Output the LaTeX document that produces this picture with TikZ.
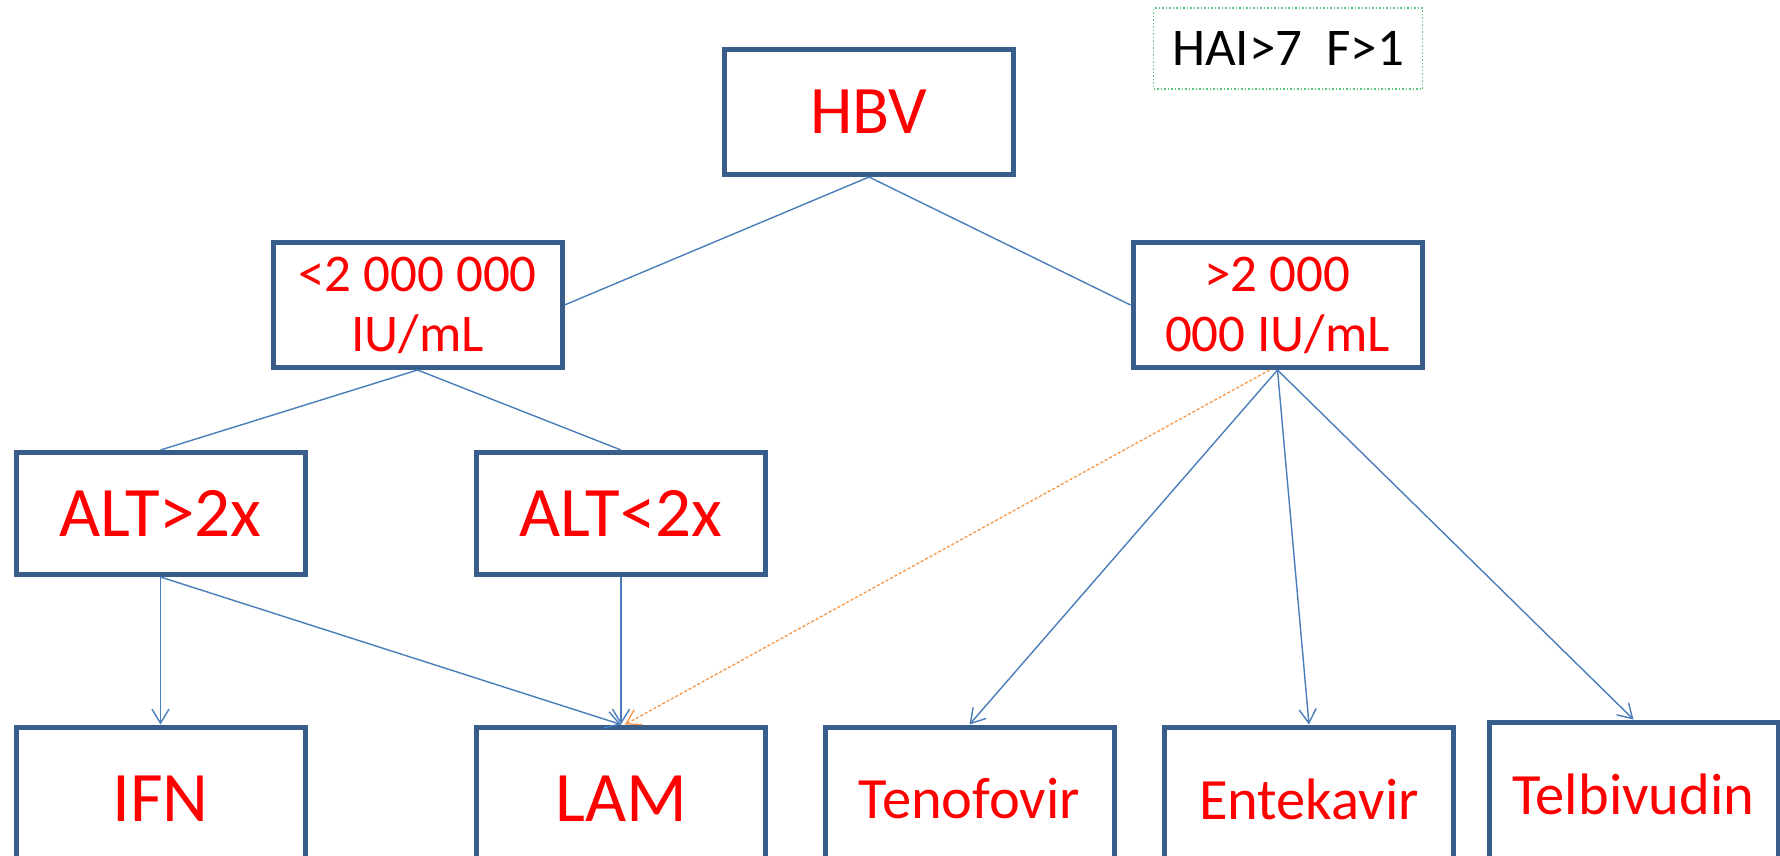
\documentclass[tikz,border=0pt]{standalone}
\usepackage{fontspec}
\setmainfont{Carlito}
\usepackage{tikz}
\usetikzlibrary{arrows.meta}
\definecolor{boxblue}{RGB}{56,93,138}
\definecolor{linkblue}{RGB}{74,126,187}
\definecolor{linkorange}{RGB}{247,150,70}
\definecolor{notegreen}{RGB}{90,200,130}
\newlength{\boxw}
\setlength{\boxw}{289pt}
\newlength{\boxh}
\setlength{\boxh}{125pt}

\begin{document}
\begin{tikzpicture}[x=1pt,y=-1pt,
	box/.style={draw=boxblue,line width=5pt,minimum width=\boxw,minimum height=\boxh,inner sep=0pt,text=red,align=center},
	link/.style={draw=linkblue,line width=1.4pt},
	arr/.style={link,-{Straight Barb[length=14pt,width=17pt]}}]
	\useasboundingbox (0,0) rectangle (1780,855);
	\clip (0,0) rectangle (1780,855);
	\fill[white] (0,0) rectangle (1780,855);

	\node[box,font=\fontsize{68}{72}\selectfont] (hbv) at (869,112) {HBV};
	\node[draw=notegreen,line width=1.5pt,dotted,minimum width=269pt,minimum height=81pt,inner sep=0pt,font=\fontsize{53}{60}\selectfont] (hai) at (1288,48.5) {HAI>7\ \ F>1};

	\node[box,font=\fontsize{53}{60}\selectfont] (low) at (417.5,305) {<2 000 000\\IU/mL};
	\node[box,font=\fontsize{53}{60}\selectfont] (high) at (1277.5,305) {>2 000\\000 IU/mL};

	\node[box,minimum height=122pt,font=\fontsize{71}{75}\selectfont] (altup) at (160.5,513.5) {ALT>2x};
	\node[box,minimum height=122pt,font=\fontsize{71}{75}\selectfont] (altdown) at (621,513.5) {ALT<2x};

	\node[box,minimum height=144pt,font=\fontsize{71}{75}\selectfont] (ifn) at (160.5,799) {IFN};
	\node[box,minimum height=144pt,font=\fontsize{71}{75}\selectfont] (lam) at (621,799) {LAM};
	\node[box,minimum height=144pt,font=\fontsize{58.5}{62}\selectfont] (teno) at (969.5,799) {Tenofovir};
	\node[box,minimum height=144pt,font=\fontsize{58.5}{62}\selectfont] (ente) at (1309,799) {Entekavir};
	\node[box,minimum height=144pt,font=\fontsize{58.5}{62}\selectfont] (telb) at (1633.5,794) {Telbivudin};

	\draw[link] (hbv.south) -- (low.east);
	\draw[link] (hbv.south) -- (high.west);
	\draw[link] (low.south) -- (altup.north);
	\draw[link] (low.south) -- (altdown.north);

	\draw[arr] (altup.south) -- (ifn.north);
	\draw[arr] (altup.south) -- (lam.north);
	\draw[arr] (altdown.south) -- (lam.north);

	\draw[arr] (high.south) -- (teno.north);
	\draw[arr] (high.south) -- (ente.north);
	\draw[arr] (high.south) -- (telb.north);
	\draw[draw=linkorange,line width=1.3pt,dash pattern=on 3pt off 2pt,-{Straight Barb[length=14pt,width=17pt]}] ([xshift=-8pt]high.south) -- ([xshift=4pt]lam.north);
\end{tikzpicture}
\end{document}
